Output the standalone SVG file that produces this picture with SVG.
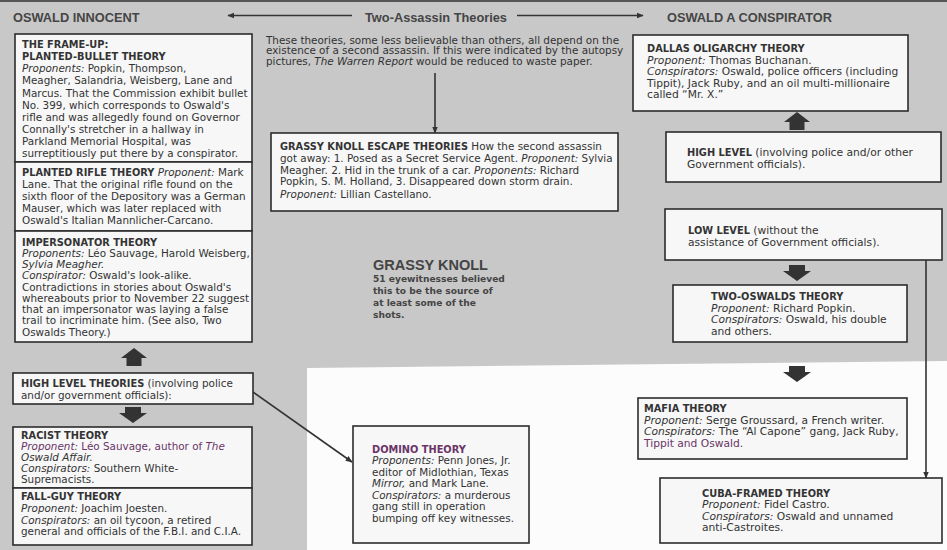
<svg xmlns="http://www.w3.org/2000/svg" width="947" height="550" viewBox="0 0 947 550">
<defs>
<style>
.bg{fill:#c8c8c8}
.wh{fill:#fcfcfc}
.box{fill:#f7f7f7;stroke:#2c2c2c;stroke-width:1.6}
.t{font-family:"DejaVu Sans","Liberation Sans",sans-serif;font-size:10.4px;fill:#333}
.r{font-size:10.7px}
.b{font-weight:bold;font-size:9.8px}
.i{font-style:italic}
.hdr{font-family:"Liberation Sans",Arial,sans-serif;font-weight:bold;font-size:12.8px;fill:#454545}
.big{font-family:"Liberation Sans",Arial,sans-serif;font-weight:bold;font-size:14.5px;fill:#444}
.sm{font-family:"DejaVu Sans",sans-serif;font-weight:bold;font-size:9.1px;fill:#444}
.fat{fill:#333}
.ln{stroke:#333;stroke-width:1.6;fill:none}
.pu{fill:#6a3468}
</style>
<marker id="ah" viewBox="0 0 10 10" refX="9" refY="5" markerWidth="7" markerHeight="7" orient="auto" markerUnits="userSpaceOnUse">
<path d="M0,1 L10,5 L0,9 Z" fill="#333"/>
</marker>
<path id="fatUp" d="M0,0 L13,10 L7.5,10 L7.5,18 L-7.5,18 L-7.5,10 L-13,10 Z"/>
<path id="fatDown" d="M-8,0 L8,0 L8,6 L14,6 L0,16 L-14,6 L-8,6 Z"/>
</defs>

<rect class="bg" x="0" y="0" width="947" height="550"/>
<rect x="0" y="0" width="947" height="2" fill="#555"/>
<polygon class="wh" points="307,368 947,361 947,550 307,550"/>

<g id="headers">
<text class="hdr" x="13" y="21.5">OSWALD INNOCENT</text>
<text class="hdr" x="365" y="21.5">Two-Assassin Theories</text>
<text class="hdr" x="667" y="21.5">OSWALD A CONSPIRATOR</text>
</g>

<g id="connectors">
<line class="ln" x1="352" y1="15.5" x2="228" y2="15.5" marker-end="url(#ah)"/>
<line class="ln" x1="517" y1="15.5" x2="643" y2="15.5" marker-end="url(#ah)"/>
<line class="ln" x1="435" y1="73" x2="435" y2="133" marker-end="url(#ah)"/>
<line class="ln" x1="253" y1="392" x2="352" y2="462" marker-end="url(#ah)"/>
<line class="ln" x1="926" y1="260" x2="926" y2="478" marker-end="url(#ah)"/>
<use href="#fatUp" class="fat" x="134" y="348"/>
<use href="#fatDown" class="fat" x="133" y="407"/>
<use href="#fatUp" class="fat" x="797" y="112"/>
<use href="#fatDown" class="fat" x="797" y="265"/>
<use href="#fatDown" class="fat" x="797" y="366"/>
</g>

<g id="frame-up">
<rect class="box" x="15" y="34" width="237" height="128"/>
<text class="t" x="22" y="48"><tspan class="b">THE FRAME-UP:</tspan></text>
<text class="t" x="22" y="60"><tspan class="b">PLANTED-BULLET THEORY</tspan></text>
<text class="t" x="22" y="72"><tspan class="i">Proponents:</tspan> Popkin, Thompson,</text>
<text class="t" x="22" y="84">Meagher, Salandria, Weisberg, Lane and</text>
<text class="t" x="22" y="96.5">Marcus. That the Commission exhibit bullet</text>
<text class="t" x="22" y="108.5">No. 399, which corresponds to Oswald's</text>
<text class="t" x="22" y="120.5">rifle and was allegedly found on Governor</text>
<text class="t" x="22" y="132.5">Connally's stretcher in a hallway in</text>
<text class="t" x="22" y="144.5">Parkland Memorial Hospital, was</text>
<text class="t" x="22" y="156.5">surreptitiously put there by a conspirator.</text>
</g>

<g id="planted-rifle">
<rect class="box" x="15" y="162" width="237" height="69"/>
<text class="t" x="22" y="176"><tspan class="b">PLANTED RIFLE THEORY</tspan> <tspan class="i">Proponent:</tspan> Mark</text>
<text class="t" x="22" y="188">Lane. That the original rifle found on the</text>
<text class="t" x="22" y="200">sixth floor of the Depository was a German</text>
<text class="t" x="22" y="212">Mauser, which was later replaced with</text>
<text class="t" x="22" y="224">Oswald's Italian Mannlicher-Carcano.</text>
</g>

<g id="impersonator">
<rect class="box" x="15" y="231" width="237" height="111"/>
<text class="t" x="22" y="245.5"><tspan class="b">IMPERSONATOR THEORY</tspan></text>
<text class="t" x="22" y="256.8"><tspan class="i">Proponents:</tspan> Léo Sauvage, Harold Weisberg,</text>
<text class="t" x="22" y="268"><tspan class="i">Sylvia Meagher.</tspan></text>
<text class="t" x="22" y="279.3"><tspan class="i">Conspirator:</tspan> Oswald's look-alike.</text>
<text class="t" x="22" y="290.5">Contradictions in stories about Oswald's</text>
<text class="t" x="22" y="301.8">whereabouts prior to November 22 suggest</text>
<text class="t" x="22" y="313">that an impersonator was laying a false</text>
<text class="t" x="22" y="324.3">trail to incriminate him. (See also, Two</text>
<text class="t" x="22" y="335.5">Oswalds Theory.)</text>
</g>

<g id="high-level-theories">
<rect class="box" x="13" y="373" width="240" height="31"/>
<text class="t" x="21" y="387"><tspan class="b">HIGH LEVEL THEORIES</tspan> (involving police</text>
<text class="t" x="21" y="398.7">and/or government officials):</text>
</g>

<g id="racist">
<rect class="box" x="13" y="427" width="239" height="61"/>
<text class="t" x="21" y="438.5"><tspan class="b">RACIST THEORY</tspan></text>
<text class="t pu" x="21" y="449.5"><tspan class="i">Proponent:</tspan> Léo Sauvage, author of <tspan class="i">The</tspan></text>
<text class="t" x="21" y="460.5"><tspan class="i">Oswald Affair.</tspan></text>
<text class="t" x="21" y="471.5"><tspan class="i">Conspirators:</tspan> Southern White-</text>
<text class="t" x="21" y="482.5">Supremacists.</text>
</g>

<g id="fall-guy">
<rect class="box" x="13" y="488" width="239" height="57"/>
<text class="t" x="21" y="500"><tspan class="b">FALL-GUY THEORY</tspan></text>
<text class="t" x="21" y="512"><tspan class="i">Proponent:</tspan> Joachim Joesten.</text>
<text class="t" x="21" y="523.5"><tspan class="i">Conspirators:</tspan> an oil tycoon, a retired</text>
<text class="t" x="21" y="535">general and officials of the F.B.I. and C.I.A.</text>
</g>

<g id="intro">
<text class="t" x="266" y="43.5">These theories, some less believable than others, all depend on the</text>
<text class="t" x="266" y="54.3">existence of a second assassin. If this were indicated by the autopsy</text>
<text class="t" x="266" y="65">pictures, <tspan class="i">The Warren Report</tspan> would be reduced to waste paper.</text>
</g>

<g id="escape">
<rect class="box" x="271" y="133" width="347" height="78"/>
<text class="t" x="280" y="150.4"><tspan class="b">GRASSY KNOLL ESCAPE THEORIES</tspan>  How the second assassin</text>
<text class="t" x="280" y="162">got away: 1. Posed as a Secret Service Agent. <tspan class="i">Proponent:</tspan> Sylvia</text>
<text class="t" x="280" y="173.7">Meagher. 2. Hid in the trunk of a car. <tspan class="i">Proponents:</tspan> Richard</text>
<text class="t" x="280" y="185.4">Popkin, S. M. Holland, 3. Disappeared down storm drain.</text>
<text class="t" x="280" y="197.7"><tspan class="i">Proponent:</tspan> Lillian Castellano.</text>
</g>

<g id="grassy-knoll">
<text class="big" x="373" y="270">GRASSY KNOLL</text>
<text class="sm" x="373" y="281.5">51 eyewitnesses believed</text>
<text class="sm" x="373" y="293.5">this to be the source of</text>
<text class="sm" x="373" y="305.5">at least some of the</text>
<text class="sm" x="373" y="317.5">shots.</text>
</g>

<g id="domino">
<rect class="box" x="353" y="426" width="176" height="117"/>
<text class="t" x="372" y="452.5"><tspan class="b pu">DOMINO THEORY</tspan></text>
<text class="t" x="372" y="464"><tspan class="i">Proponents:</tspan> Penn Jones, Jr.</text>
<text class="t" x="372" y="475.5">editor of Midlothian, Texas</text>
<text class="t" x="372" y="487"><tspan class="i">Mirror,</tspan> and Mark Lane.</text>
<text class="t" x="372" y="498.5"><tspan class="i">Conspirators:</tspan> a murderous</text>
<text class="t" x="372" y="510">gang still in operation</text>
<text class="t" x="372" y="521.5">bumping off key witnesses.</text>
</g>

<g id="dallas">
<rect class="box" x="633" y="35" width="275" height="76"/>
<text class="t r" x="647" y="52"><tspan class="b">DALLAS OLIGARCHY THEORY</tspan></text>
<text class="t r" x="647" y="63.5"><tspan class="i">Proponent:</tspan> Thomas Buchanan.</text>
<text class="t r" x="647" y="75"><tspan class="i">Conspirators:</tspan> Oswald, police officers (including</text>
<text class="t r" x="647" y="86.5">Tippit), Jack Ruby, and an oil multi-millionaire</text>
<text class="t r" x="647" y="98">called “Mr. X.”</text>
</g>

<g id="high-level">
<rect class="box" x="666" y="132" width="275" height="50"/>
<text class="t r" x="687" y="155.5"><tspan class="b">HIGH LEVEL</tspan> (involving police and/or other</text>
<text class="t r" x="687" y="167.5">Government officials).</text>
</g>

<g id="low-level">
<rect class="box" x="665" y="209" width="277" height="51"/>
<text class="t r" x="688" y="233.5"><tspan class="b">LOW LEVEL</tspan> (without the</text>
<text class="t r" x="688" y="245.5">assistance of Government officials).</text>
</g>

<g id="two-oswalds">
<rect class="box" x="673" y="285" width="234" height="57"/>
<text class="t r" x="711" y="300"><tspan class="b">TWO-OSWALDS THEORY</tspan></text>
<text class="t r" x="711" y="311.5"><tspan class="i">Proponent:</tspan> Richard Popkin.</text>
<text class="t r" x="711" y="323"><tspan class="i">Conspirators:</tspan> Oswald, his double</text>
<text class="t r" x="711" y="334.5">and others.</text>
</g>

<g id="mafia">
<rect class="box" x="638" y="398" width="269" height="61"/>
<text class="t r" x="644" y="412"><tspan class="b">MAFIA THEORY</tspan></text>
<text class="t r" x="644" y="423.6"><tspan class="i">Proponent:</tspan> Serge Groussard, a French writer.</text>
<text class="t r" x="644" y="435.2"><tspan class="i">Conspirators:</tspan> The “Al Capone” gang, Jack Ruby,</text>
<text class="t r pu" x="644" y="446.8">Tippit and Oswald.</text>
</g>

<g id="cuba-framed">
<rect class="box" x="660" y="478" width="282" height="65"/>
<text class="t r" x="702" y="496.5"><tspan class="b">CUBA-FRAMED THEORY</tspan></text>
<text class="t r" x="702" y="508"><tspan class="i">Proponent:</tspan> Fidel Castro.</text>
<text class="t r" x="702" y="519.5"><tspan class="i">Conspirators:</tspan> Oswald and unnamed</text>
<text class="t r" x="702" y="531">anti-Castroites.</text>
</g>
</svg>
